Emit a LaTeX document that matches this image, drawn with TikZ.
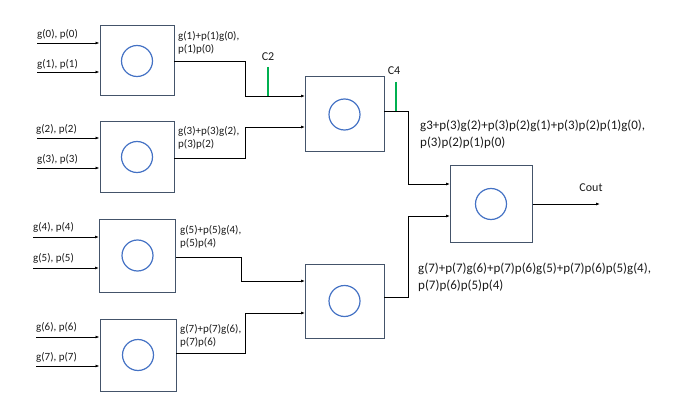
\documentclass[tikz,border=0pt]{standalone}
\usepackage{fontspec}
\setmainfont{Carlito}
\usetikzlibrary{arrows.meta}
\definecolor{boxline}{HTML}{44546A}
\definecolor{ringblue}{HTML}{4472C4}
\definecolor{carrygreen}{HTML}{00B050}
\definecolor{txt}{HTML}{1A1A1A}
\begin{document}
\begin{tikzpicture}[x=1pt,y=-1pt,
  pgbox/.style={draw=boxline,line width=1pt,rectangle,inner sep=0pt},
  ring/.style={draw=ringblue,line width=1.2pt,circle,inner sep=0pt,minimum size=31pt},
  wire/.style={draw=black,line width=0.9pt},
  arr/.style={wire,-{Latex[length=4pt,width=3pt]}},
  carry/.style={draw=carrygreen,line width=1.4pt},
  lbl/.style={text=txt,font=\fontsize{11}{13}\selectfont,inner sep=0pt,align=left},
  biglbl/.style={lbl,font=\fontsize{13}{17}\selectfont},
]
\useasboundingbox (0,0) rectangle (679,406);

% first stage
\node[pgbox,minimum width=74pt,minimum height=70pt] (b1) at (137,61) {};
\node[pgbox,minimum width=74pt,minimum height=70pt] (b2) at (137,157) {};
\node[pgbox,minimum width=76pt,minimum height=73pt] (b6) at (137.5,255.5) {};
\node[pgbox,minimum width=76pt,minimum height=72pt] (b7) at (138,355) {};
% second stage
\node[pgbox,minimum width=79pt,minimum height=75pt] (b3) at (344.5,114.5) {};
\node[pgbox,minimum width=79pt,minimum height=74pt] (b4) at (344.5,301) {};
% final stage
\node[pgbox,minimum width=82pt,minimum height=76pt] (b5) at (491,204) {};

\foreach \b in {b1,b2,b3,b4,b5,b6,b7} \node[ring] (r\b) at (\b) {};

% primary inputs
\coordinate (i0) at (37,43);  \coordinate (i1) at (37,72);
\coordinate (i2) at (37,138); \coordinate (i3) at (37,168);
\coordinate (i4) at (33,237); \coordinate (i5) at (33,268);
\coordinate (i6) at (36,337); \coordinate (i7) at (36,366);
\draw[arr] (i0) -- (i0 -| b1.west);
\draw[arr] (i1) -- (i1 -| b1.west);
\draw[arr] (i2) -- (i2 -| b2.west);
\draw[arr] (i3) -- (i3 -| b2.west);
\draw[arr] (i4) -- (i4 -| b6.west);
\draw[arr] (i5) -- (i5 -| b6.west);
\draw[arr] (i6) -- (i6 -| b7.west);
\draw[arr] (i7) -- (i7 -| b7.west);

\node[lbl,anchor=west] (t0) at (37,34) {g(0), p(0)};
\node[lbl,anchor=west] (t1) at (37,64) {g(1), p(1)};
\node[lbl,anchor=west] (t2) at (36,129) {g(2), p(2)};
\node[lbl,anchor=west] (t3) at (37,159) {g(3), p(3)};
\node[lbl,anchor=west] (t4) at (33,227) {g(4), p(4)};
\node[lbl,anchor=west] (t5) at (33,258) {g(5), p(5)};
\node[lbl,anchor=west] (t6) at (36,327) {g(6), p(6)};
\node[lbl,anchor=west] (t7) at (36,357) {g(7), p(7)};

% stage outputs and entry points
\coordinate (o1) at (174,61);  \coordinate (o2) at (174,158);
\coordinate (o6) at (176,257); \coordinate (o7) at (176,353);
\coordinate (o3) at (384,111); \coordinate (o4) at (384,297);
\coordinate (b3a) at (305,96); \coordinate (b3b) at (305,127);
\coordinate (b4a) at (305,281); \coordinate (b4b) at (305,313);
\coordinate (b5a) at (450,184); \coordinate (b5b) at (450,216);
\coordinate (cout) at (600,204);

\draw[arr] (o1) -- (245,61) |- (b3a);
\draw[arr] (o2) -- (245,158) |- (b3b);
\draw[arr] (o6) -- (241,257) |- (b4a);
\draw[arr] (o7) -- (245,353) |- (b4b);
\draw[arr] (o3) -- (408,111) |- (b5a);
\draw[arr] (o4) -- (408,297) |- (b5b);
\draw[arr] (b5.east) -- (cout);

% carry taps
\coordinate (c2) at (268,67);
\coordinate (c4) at (396,82);
\draw[carry] (c2) -- (c2 |- b3a);
\draw[carry] (c4) -- (c4 |- o3);
\node[lbl,font=\fontsize{12}{14}\selectfont] (c2t) at (268,57) {C2};
\node[lbl,font=\fontsize{12}{14}\selectfont] (c4t) at (394,71) {C4};
\node[lbl,font=\fontsize{12}{14}\selectfont] (coutt) at (591,188) {Cout};

% group generate/propagate labels
\node[lbl,anchor=north west] (g10) at (178,31) {g(1)+p(1)g(0),\\p(1)p(0)};
\node[lbl,anchor=north west] (g32) at (178,126) {g(3)+p(3)g(2),\\p(3)p(2)};
\node[lbl,anchor=north west] (g54) at (180,225) {g(5)+p(5)g(4),\\p(5)p(4)};
\node[lbl,anchor=north west] (g76) at (180,324) {g(7)+p(7)g(6),\\p(7)p(6)};
\node[biglbl,anchor=north west] (g30) at (420,120) {g3+p(3)g(2)+p(3)p(2)g(1)+p(3)p(2)p(1)g(0),\\p(3)p(2)p(1)p(0)};
\node[biglbl,anchor=north west] (g74) at (418,263) {g(7)+p(7)g(6)+p(7)p(6)g(5)+p(7)p(6)p(5)g(4),\\p(7)p(6)p(5)p(4)};
\end{tikzpicture}
\end{document}
